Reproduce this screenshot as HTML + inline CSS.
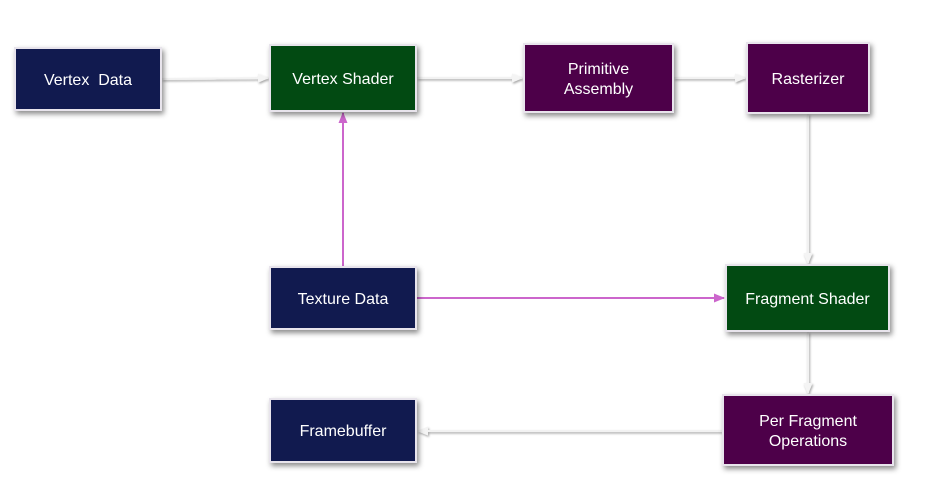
<!DOCTYPE html>
<html><head><style>
body{margin:0;width:931px;height:502px;background:#fff;position:relative;overflow:hidden;font-family:"Liberation Sans",sans-serif}
.b{position:absolute;box-sizing:border-box;border:2px solid #e8e4ec;color:#fff;font-size:16px;display:flex;align-items:center;justify-content:center;text-align:center;line-height:20px;padding-top:3px;box-shadow:2px 3px 5px rgba(0,0,0,.45)}
.n{background:#111a4f}.g{background:#024a12}.p{background:#4d0049}
svg{position:absolute;left:0;top:0}
</style></head><body>
<svg width="931" height="502">
<defs>
<filter id="s"><feDropShadow dx="1" dy="1.5" stdDeviation="1" flood-color="#000" flood-opacity="0.35"/></filter>
<marker id="a" markerWidth="11" markerHeight="9" refX="10" refY="4.5" orient="auto" markerUnits="userSpaceOnUse"><path d="M0,0L11,4.5L0,9z" fill="#f4f4f4"/></marker>
<marker id="m" markerWidth="11" markerHeight="9" refX="10" refY="4.5" orient="auto" markerUnits="userSpaceOnUse"><path d="M0,0L11,4.5L0,9z" fill="#cc66cc"/></marker>
</defs>
<g stroke="#f2f2f2" stroke-width="2" fill="none" filter="url(#s)">
<line x1="162" y1="79" x2="268" y2="78" marker-end="url(#a)"/>
<line x1="417" y1="78" x2="522" y2="78" marker-end="url(#a)"/>
<line x1="674" y1="78" x2="745" y2="78" marker-end="url(#a)"/>
<line x1="808" y1="114" x2="808" y2="263" marker-end="url(#a)"/>
<line x1="808" y1="332" x2="808" y2="393" marker-end="url(#a)"/>
<line x1="722" y1="431" x2="418" y2="431" marker-end="url(#a)"/>
</g>
<g stroke="#cc66cc" stroke-width="2" fill="none">
<line x1="343" y1="266" x2="343" y2="113" marker-end="url(#m)"/>
<line x1="417" y1="298" x2="724" y2="298" marker-end="url(#m)"/>
</g>
</svg>
<div class="b n" style="left:14px;top:47px;width:148px;height:64px">Vertex&nbsp; Data</div>
<div class="b g" style="left:269px;top:44px;width:148px;height:68px">Vertex Shader</div>
<div class="b p" style="left:523px;top:43px;width:151px;height:70px">Primitive<br>Assembly</div>
<div class="b p" style="left:746px;top:42px;width:124px;height:72px">Rasterizer</div>
<div class="b n" style="left:269px;top:266px;width:148px;height:64px">Texture Data</div>
<div class="b g" style="left:725px;top:264px;width:165px;height:68px">Fragment Shader</div>
<div class="b p" style="left:722px;top:394px;width:172px;height:72px">Per Fragment<br>Operations</div>
<div class="b n" style="left:269px;top:398px;width:148px;height:65px">Framebuffer</div>
</body></html>
